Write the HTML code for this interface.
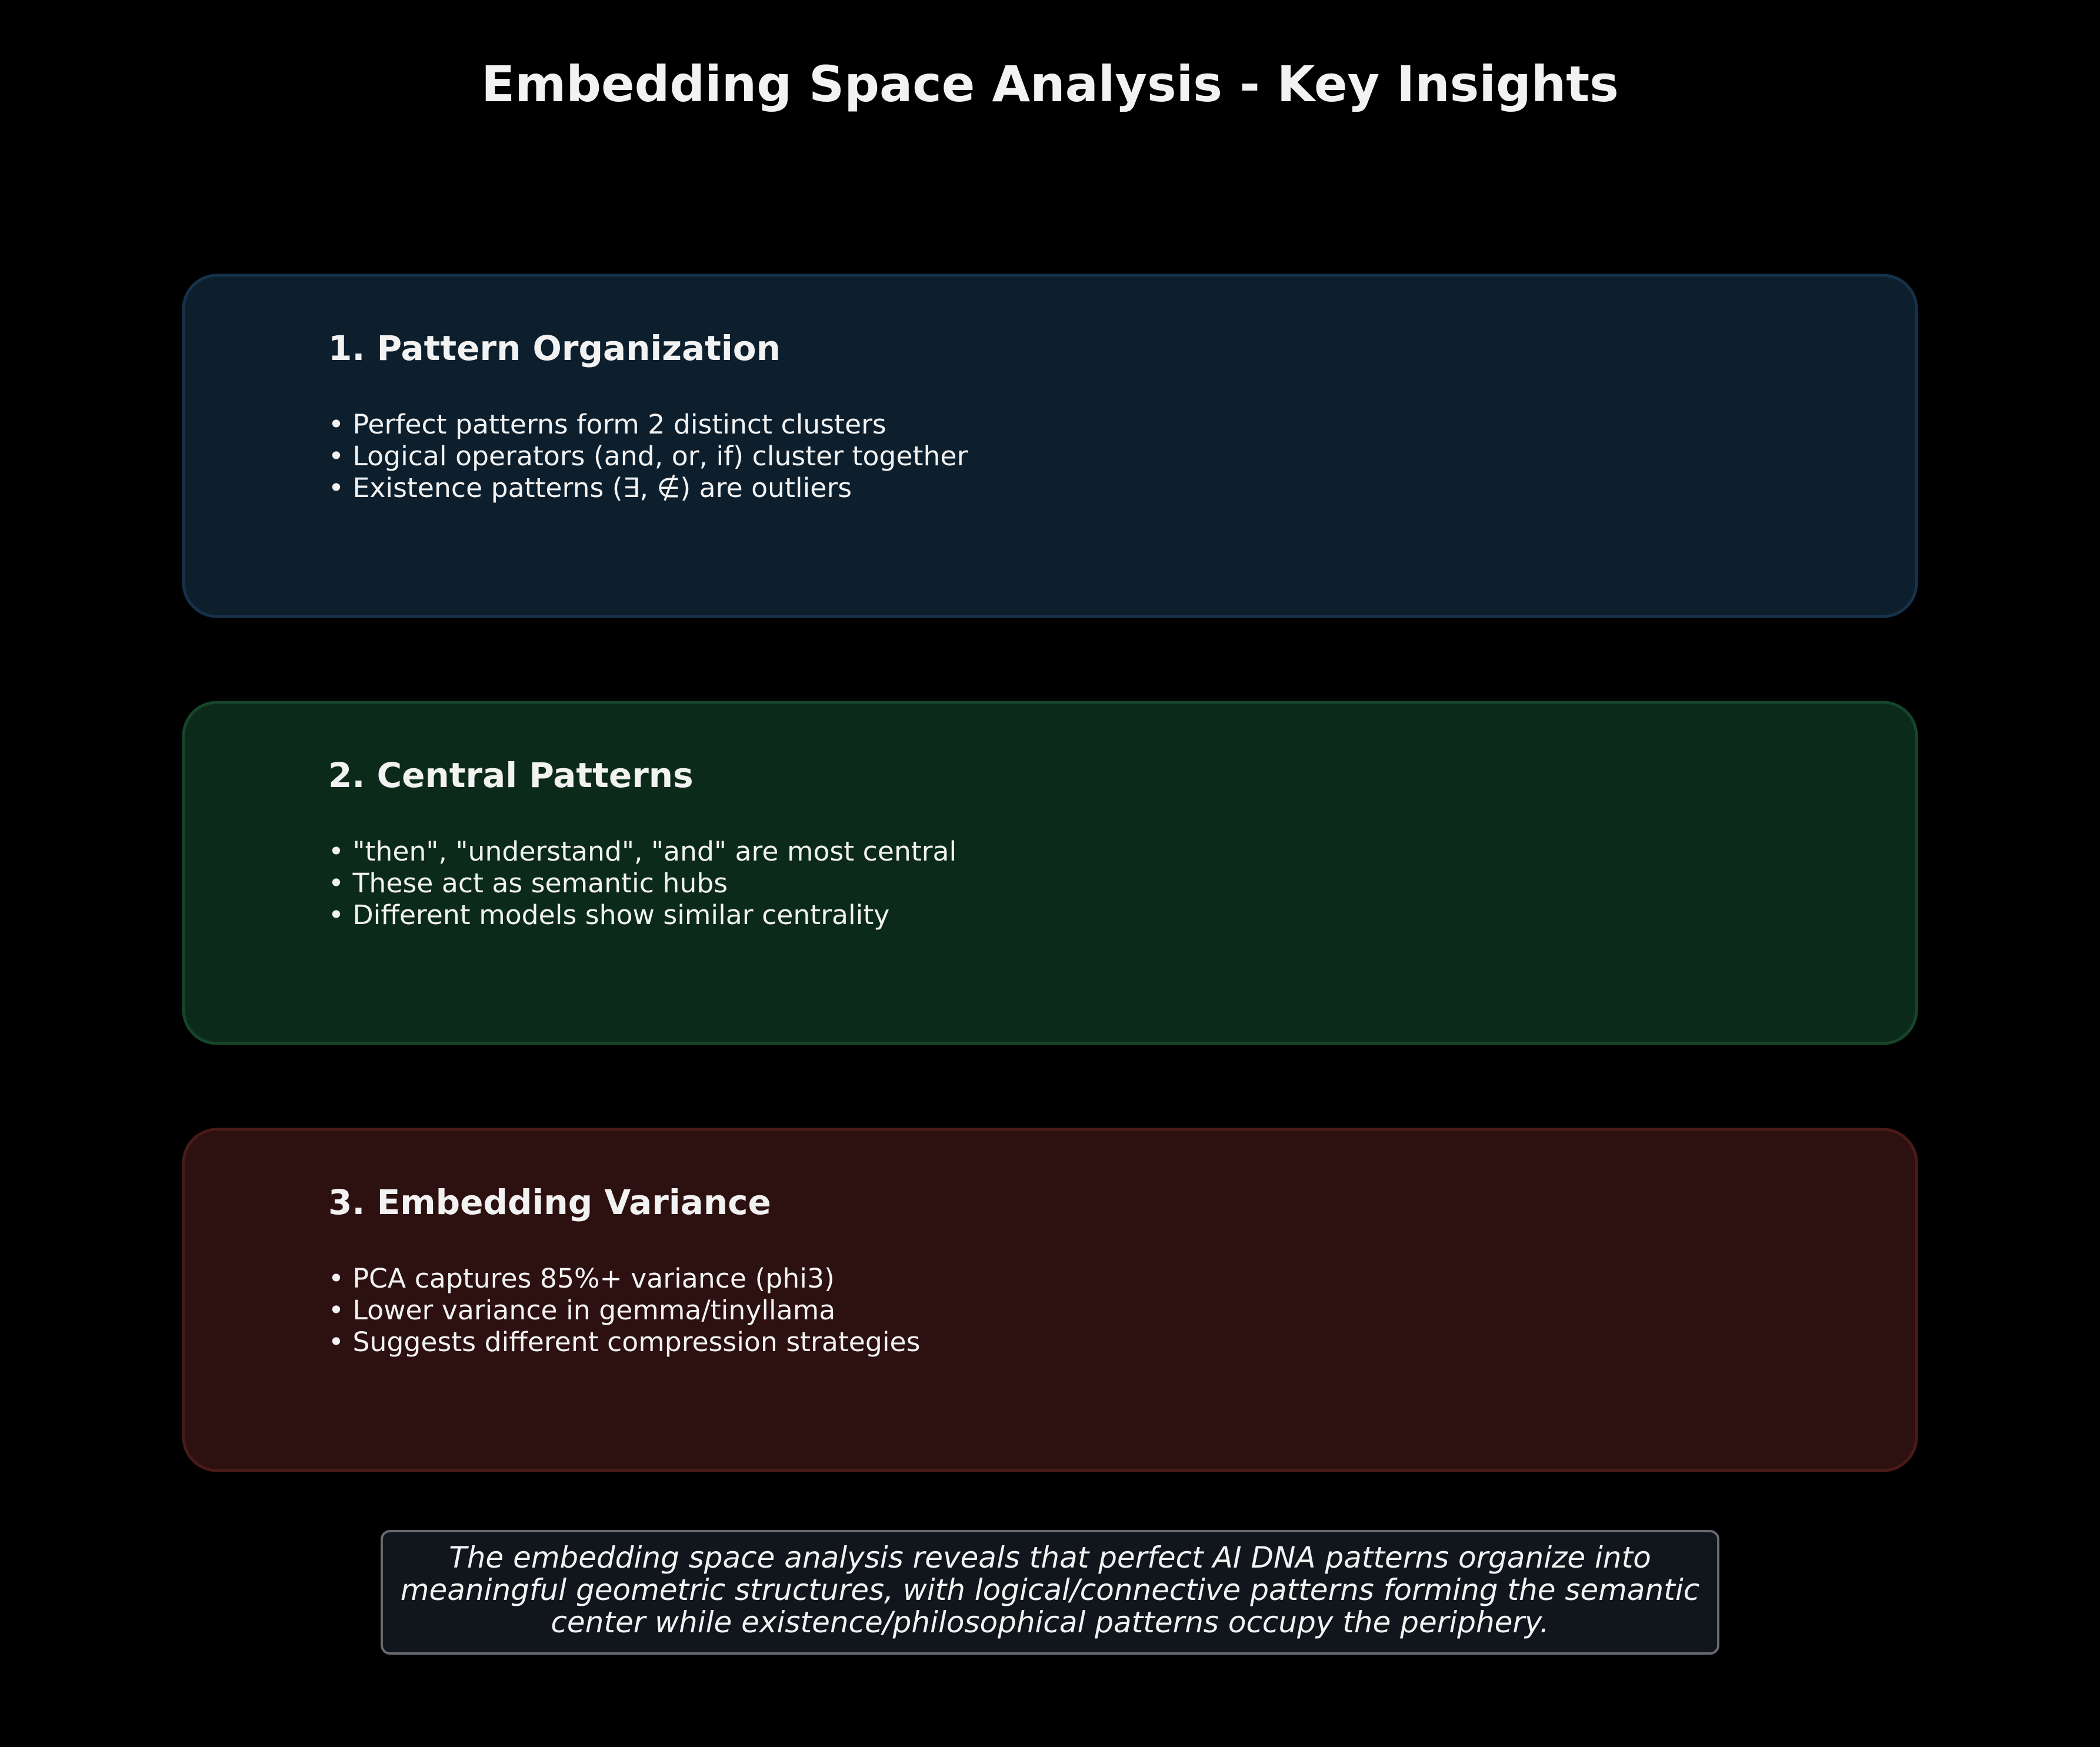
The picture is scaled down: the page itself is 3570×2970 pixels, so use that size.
<!DOCTYPE html>
<html><head><meta charset="utf-8"><style>
html,body{margin:0;padding:0;background:#000;}
svg{display:block;}
text{font-family:"DejaVu Sans","Liberation Sans",sans-serif;fill:#f2f2f2;}
</style></head><body>
<svg width="3570" height="2970" viewBox="0 0 3570 2970" xmlns="http://www.w3.org/2000/svg">
<rect width="3570" height="2970" fill="#000"/>
<text x="1785" y="172" text-anchor="middle" font-size="83.5" font-weight="bold" fill="#ffffff">Embedding Space Analysis - Key Insights</text>

<rect x="312" y="468" width="2946" height="580" rx="57" fill="#0d1f2d" stroke="#16324a" stroke-width="5"/>
<text x="558" y="612" font-size="58" font-weight="bold" fill="#ffffff">1. Pattern Organization</text>
<text x="558" y="737" font-size="45.7">• Perfect patterns form 2 distinct clusters</text>
<text x="558" y="791" font-size="45.7">• Logical operators (and, or, if) cluster together</text>
<text x="558" y="845" font-size="45.7">• Existence patterns (∃, ∉) are outliers</text>

<rect x="312" y="1194" width="2946" height="580" rx="57" fill="#0c2a1a" stroke="#16452a" stroke-width="5"/>
<text x="558" y="1338" font-size="58" font-weight="bold" fill="#ffffff">2. Central Patterns</text>
<text x="558" y="1463" font-size="45.7">• "then", "understand", "and" are most central</text>
<text x="558" y="1517" font-size="45.7">• These act as semantic hubs</text>
<text x="558" y="1571" font-size="45.7">• Different models show similar centrality</text>

<rect x="312" y="1920" width="2946" height="580" rx="57" fill="#2d1010" stroke="#4a1a18" stroke-width="5"/>
<text x="558" y="2064" font-size="58" font-weight="bold" fill="#ffffff">3. Embedding Variance</text>
<text x="558" y="2189" font-size="45.7">• PCA captures 85%+ variance (phi3)</text>
<text x="558" y="2243" font-size="45.7">• Lower variance in gemma/tinyllama</text>
<text x="558" y="2297" font-size="45.7">• Suggests different compression strategies</text>

<rect x="649" y="2603" width="2272" height="208" rx="14" fill="#10161c" stroke="#666a70" stroke-width="4"/>
<text x="1785" y="2665" text-anchor="middle" font-size="50" font-style="italic">The embedding space analysis reveals that perfect AI DNA patterns organize into</text>
<text x="1785" y="2720" text-anchor="middle" font-size="50" font-style="italic">meaningful geometric structures, with logical/connective patterns forming the semantic</text>
<text x="1785" y="2775" text-anchor="middle" font-size="50" font-style="italic">center while existence/philosophical patterns occupy the periphery.</text>
</svg>
</body></html>
